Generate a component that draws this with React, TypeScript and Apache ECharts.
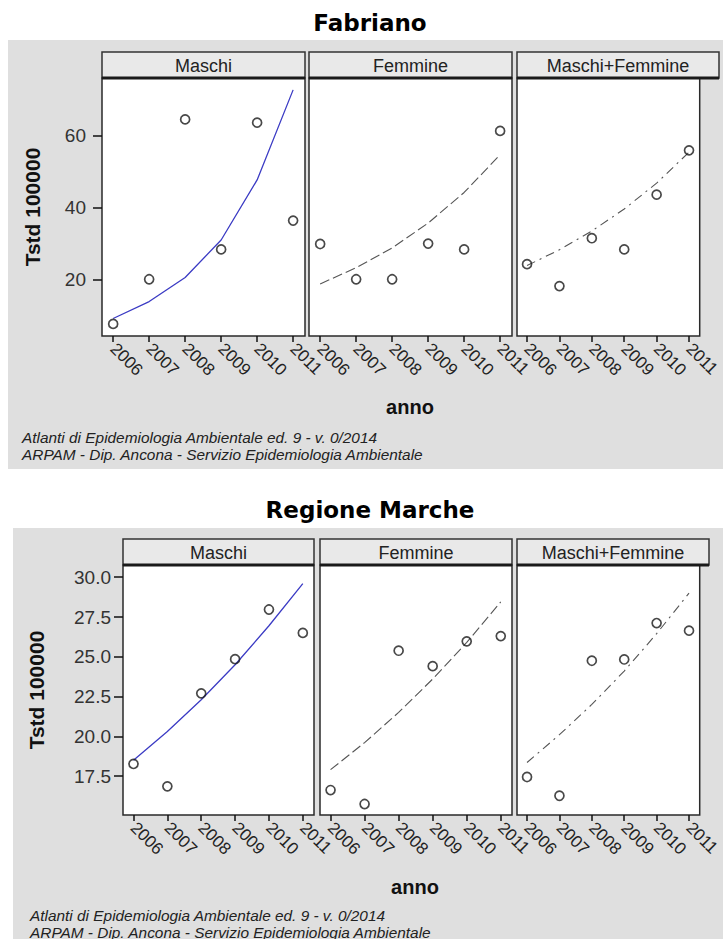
import React, { useEffect, useRef } from "react";
import * as echarts from "echarts";

// ---------- data ----------
const years = [2006, 2007, 2008, 2009, 2010, 2011];
const panelNames = ["Maschi", "Femmine", "Maschi+Femmine"];
const blockTitles = ["Fabriano", "Regione Marche"];
const yAxisTitle = "Tstd 100000";
const xAxisTitle = "anno";
const footer1 = "Atlanti di Epidemiologia Ambientale ed. 9 - v. 0/2014";
const footer2 = "ARPAM - Dip. Ancona - Servizio Epidemiologia Ambientale";

const fabMaschiObs = [7.8, 20.2, 64.6, 28.5, 63.7, 36.5];
const fabMaschiFit = [9.3, 14.0, 20.7, 31.1, 47.8, 72.8];
const fabFemmineObs = [30.0, 20.2, 20.2, 30.1, 28.5, 61.4];
const fabFemmineFit = [18.9, 23.4, 28.9, 35.8, 44.3, 54.8];
const fabTotObs = [24.4, 18.3, 31.6, 28.5, 43.7, 56.0];
const fabTotFit = [24.0, 28.4, 33.6, 39.7, 46.9, 55.5];

const regMaschiObs = [18.26, 16.85, 22.7, 24.85, 27.97, 26.5];
const regMaschiFit = [18.5, 20.3, 22.3, 24.5, 26.95, 29.6];
const regFemmineObs = [16.62, 15.74, 25.38, 24.41, 25.97, 26.3];
const regFemmineFit = [17.9, 19.6, 21.5, 23.6, 25.9, 28.45];
const regTotObs = [17.44, 16.26, 24.75, 24.83, 27.12, 26.64];
const regTotFit = [18.35, 20.1, 22.0, 24.1, 26.45, 29.0];

const fabYTicks = [20, 40, 60];
const regYTicks = [17.5, 20, 22.5, 25, 27.5, 30];

// ---------- layout ----------
const W = 723;
const H = 939;
const SANS = "'Liberation Sans', Arial, sans-serif";

type Block = {
  bg: [number, number, number, number];
  titleY: number;
  stripTop: number;
  plotTop: number;
  plotBottom: number;
  panels: [number, number][];
  yMin: number;
  yMax: number;
  yTicks: number[];
  yDecimals: number;
  yLabelMargin: number;
  obs: number[][];
  fit: number[][];
  yTitleX: number;
  xTitle: [number, number];
  footerX: number;
  footerY: [number, number];
};

const blocks: Block[] = [
  {
    bg: [8, 40, 715, 429],
    titleY: 23,
    stripTop: 52,
    plotTop: 78,
    plotBottom: 336,
    panels: [
      [102, 305],
      [309, 512],
      [517, 719],
    ],
    yMin: 4.44,
    yMax: 76.1,
    yTicks: fabYTicks,
    yDecimals: 0,
    yLabelMargin: 16,
    obs: [fabMaschiObs, fabFemmineObs, fabTotObs],
    fit: [fabMaschiFit, fabFemmineFit, fabTotFit],
    yTitleX: 32,
    xTitle: [410, 407],
    footerX: 22,
    footerY: [437, 454],
  },
  {
    bg: [13, 528, 710, 411],
    titleY: 510,
    stripTop: 539,
    plotTop: 565,
    plotBottom: 815,
    panels: [
      [123, 314],
      [320, 512],
      [517, 709],
    ],
    yMin: 15.05,
    yMax: 30.77,
    yTicks: regYTicks,
    yDecimals: 1,
    yLabelMargin: 12,
    obs: [regMaschiObs, regFemmineObs, regTotObs],
    fit: [regMaschiFit, regFemmineFit, regTotFit],
    yTitleX: 36,
    xTitle: [415, 887],
    footerX: 30,
    footerY: [915, 932],
  },
];

const X_MIN = 2005.69;
const X_MAX = 2011.33;

const fitStyles = [
  { color: "#3b3bc4", width: 1.3, type: "solid" as any },
  { color: "#555555", width: 1.1, type: [10, 4] as any },
  { color: "#555555", width: 1.1, type: [9, 5, 2, 5] as any },
];

function buildOption() {
  const grid: any[] = [];
  const xAxis: any[] = [];
  const yAxis: any[] = [];
  const series: any[] = [];
  const graphic: any[] = [];

  blocks.forEach((b, bi) => {
    graphic.push({
      type: "rect",
      z: -10,
      shape: { x: b.bg[0], y: b.bg[1], width: b.bg[2], height: b.bg[3] },
      style: { fill: "#dfdfdf" },
    });
    graphic.push({
      type: "text",
      x: 370,
      y: b.titleY,
      style: {
        text: blockTitles[bi],
        font: "bold 23px 'DejaVu Sans', Verdana, sans-serif",
        fill: "#000",
        textAlign: "center",
        textVerticalAlign: "middle",
      },
    });
    graphic.push({
      type: "text",
      x: b.yTitleX,
      y: (b.plotTop + b.plotBottom) / 2,
      rotation: Math.PI / 2,
      style: {
        text: yAxisTitle,
        font: `bold 21px ${SANS}`,
        fill: "#111",
        textAlign: "center",
        textVerticalAlign: "middle",
      },
    });
    graphic.push({
      type: "text",
      x: b.xTitle[0],
      y: b.xTitle[1],
      style: {
        text: xAxisTitle,
        font: `bold 20px ${SANS}`,
        fill: "#111",
        textAlign: "center",
        textVerticalAlign: "middle",
      },
    });
    [footer1, footer2].forEach((t, li) => {
      graphic.push({
        type: "text",
        x: b.footerX,
        y: b.footerY[li],
        style: {
          text: t,
          font: `italic 15.4px ${SANS}`,
          fill: "#222",
          textAlign: "left",
          textVerticalAlign: "middle",
        },
      });
    });

    b.panels.forEach(([x0, x1], pi) => {
      const idx = bi * 3 + pi;
      graphic.push({
        type: "rect",
        z: 5,
        shape: { x: x0, y: b.stripTop, width: x1 - x0, height: b.plotTop - b.stripTop },
        style: { fill: "#e9e9e9", stroke: "#333", lineWidth: 1.5 },
      });
      graphic.push({
        type: "line",
        z: 6,
        shape: { x1: x0, y1: b.plotTop, x2: x1, y2: b.plotTop },
        style: { stroke: "#1a1a1a", lineWidth: 3 },
      });
      graphic.push({
        type: "text",
        z: 6,
        x: (x0 + x1) / 2,
        y: (b.stripTop + b.plotTop) / 2 + 1,
        style: {
          text: panelNames[pi],
          font: `18px ${SANS}`,
          fill: "#222",
          textAlign: "center",
          textVerticalAlign: "middle",
        },
      });

      grid.push({
        left: x0,
        top: b.plotTop,
        width: x1 - x0,
        height: b.plotBottom - b.plotTop,
        show: true,
        backgroundColor: "#ffffff",
        borderColor: "#2a2a2a",
        borderWidth: 1.5,
      });
      xAxis.push({
        type: "value",
        gridIndex: idx,
        min: X_MIN,
        max: X_MAX,
        axisLine: { show: false },
        splitLine: { show: false },
        axisTick: {
          show: true,
          length: 6,
          customValues: years,
          lineStyle: { color: "#111", width: 1.5 },
        },
        axisLabel: {
          show: true,
          customValues: years,
          rotate: -45,
          margin: 10,
          fontSize: 17,
          fontFamily: SANS,
          color: "#222",
          formatter: (v: number) => String(Math.round(v)),
        },
      });
      yAxis.push({
        type: "value",
        gridIndex: idx,
        min: b.yMin,
        max: b.yMax,
        show: pi === 0,
        axisLine: { show: false },
        splitLine: { show: false },
        axisTick: {
          show: true,
          length: 9,
          customValues: b.yTicks,
          lineStyle: { color: "#111", width: 1.5 },
        },
        axisLabel: {
          show: true,
          customValues: b.yTicks,
          margin: b.yLabelMargin,
          fontSize: 19,
          fontFamily: SANS,
          color: "#333",
          formatter: (v: number) => v.toFixed(b.yDecimals),
        },
      });

      const fs = fitStyles[pi];
      series.push({
        type: "line",
        xAxisIndex: idx,
        yAxisIndex: idx,
        data: years.map((y, k) => [y, b.fit[pi][k]]),
        showSymbol: false,
        smooth: false,
        z: 3,
        lineStyle: { color: fs.color, width: fs.width, type: fs.type },
        silent: true,
      });
      series.push({
        type: "scatter",
        xAxisIndex: idx,
        yAxisIndex: idx,
        data: years.map((y, k) => [y, b.obs[pi][k]]),
        symbol: "circle",
        symbolSize: 9,
        z: 4,
        itemStyle: { color: "rgba(255,255,255,0)", borderColor: "#1a1a1a", borderWidth: 1.7 },
        silent: true,
      });
    });
  });

  return {
    animation: false,
    backgroundColor: "#ffffff",
    grid,
    xAxis,
    yAxis,
    series,
    graphic: { elements: graphic },
  };
}

export default function App() {
  const ref = useRef<HTMLDivElement>(null);
  useEffect(() => {
    if (!ref.current) return;
    const chart = echarts.init(ref.current, undefined, { renderer: "svg" });
    chart.setOption(buildOption() as any);
    return () => chart.dispose();
  }, []);
  return (
    <div
      ref={ref}
      style={{ position: "fixed", left: 0, top: 0, width: W, height: H }}
    />
  );
}
